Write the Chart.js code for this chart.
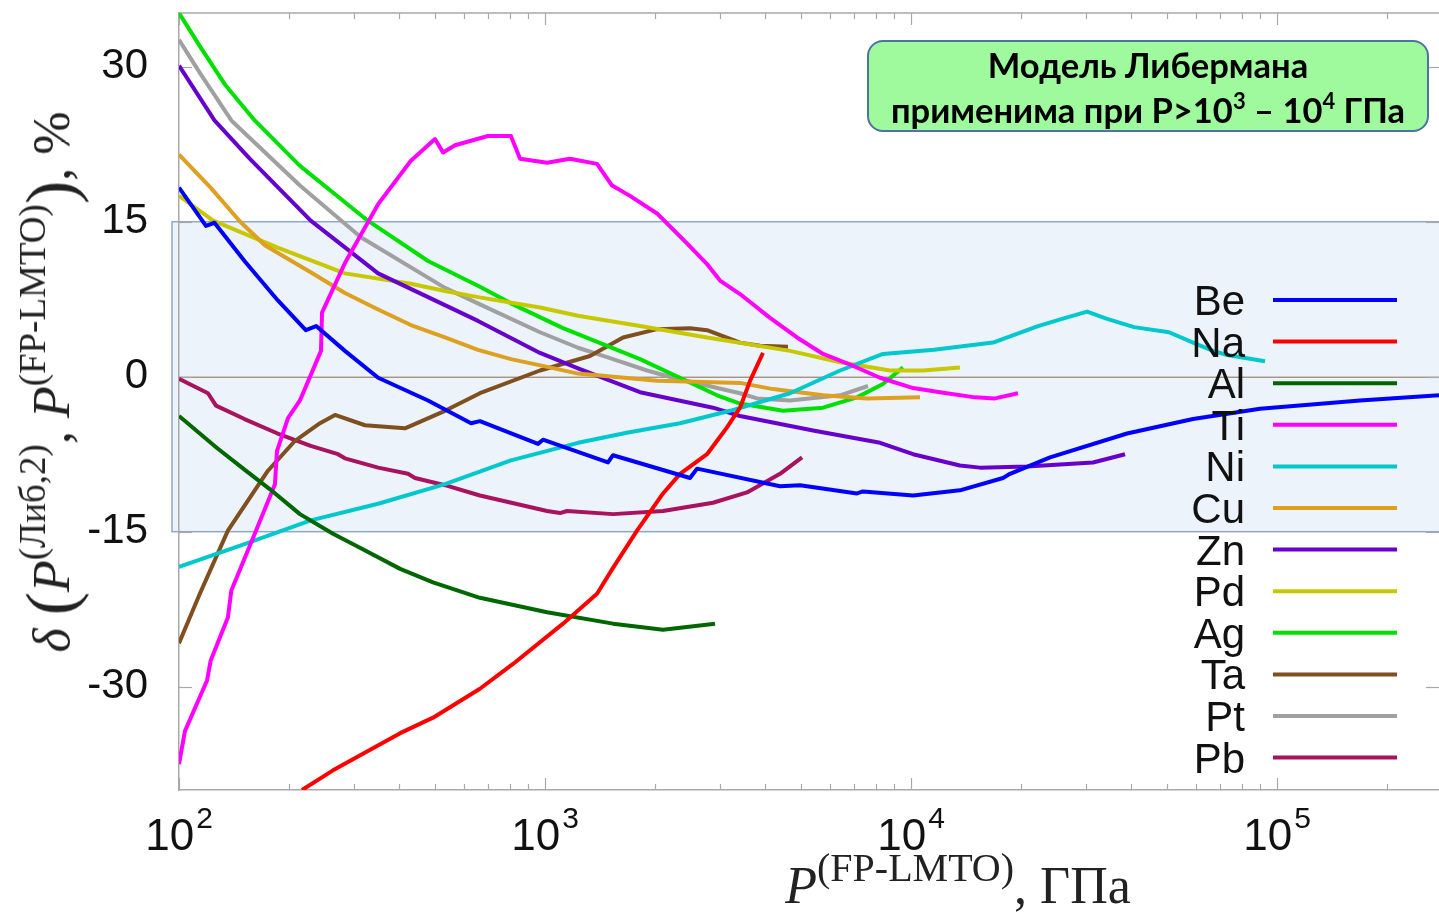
<!DOCTYPE html>
<html><head><meta charset="utf-8">
<script src="https://cdn.jsdelivr.net/npm/chart.js@4.4.1/dist/chart.umd.min.js"></script>
<style>
html,body{margin:0;padding:0;background:#fff;}
#wrap{position:relative;width:1439px;height:916px;overflow:hidden;background:#fff;}
#c{position:absolute;left:0;top:0;}
.ytitle{position:absolute;left:46px;top:382px;transform:translate(-50%,-50%) rotate(-90deg);font-family:"Liberation Serif",serif;font-size:52px;white-space:nowrap;color:#222;line-height:1;}
.ytitle .sup{font-size:37px;top:-24px;}
.xtitle{position:absolute;left:958px;top:886px;transform:translate(-50%,-50%);font-family:"Liberation Serif",serif;font-size:52px;white-space:nowrap;color:#222;line-height:1;}
.sup{position:relative;}
.xtitle .sup{font-size:40px;top:-22px;}
.big{font-size:70px;position:relative;top:5px;font-weight:300;}
i{font-style:italic;}
.note{position:absolute;left:867px;top:40px;width:558px;height:88px;border:2px solid #4E72A2;border-radius:16px;background:#9EFA9C;font-family:Lato,"Open Sans",sans-serif;font-weight:700;font-size:34.5px;line-height:45px;text-align:center;color:#000;}
.note sup{font-size:22px;line-height:0;vertical-align:0.65em;}
</style></head>
<body>
<div id="wrap">
<canvas id="c" width="1439" height="916" style="width:1439px;height:916px"></canvas>
<div class="ytitle"><i>δ</i> <span class="big">(</span><i>P</i><span class="sup">(Либ,2)</span>, <i>P</i><span class="sup">(FP-LMTO)</span><span class="big">)</span>, %</div>
<div class="xtitle"><i>P</i><span class="sup">(FP-LMTO)</span>, ГПа</div>
<div class="note">Модель Либермана<br>применима при P&gt;10<sup>3</sup> – 10<sup>4</sup> ГПа</div>
</div>
<script>
// ---- data (P in GPa, delta in %) ----
const seriesNames = ['Be','Na','Al','Ti','Ni','Cu','Zn','Pd','Ag','Ta','Pt','Pb'];
const seriesColors = ['#0000FF','#FF0000','#006600','#FF00FF','#00C8CC','#DDA020','#6600CC','#C8C800','#00E000','#7F4F1F','#A0A0A0','#A8125E'];

const beP = [100,118.5,125,151,186,222,237,284,350,479,628,664,957,987,1486,1534,2490,2602,4386,4974,7120,7393,10130,13600,17840,18640,23980,38920,58960,89860,168600,277100];
const beD = [18.3,14.6,14.9,11.2,7.4,4.5,4.9,2.5,-0.1,-2.3,-4.5,-4.3,-6.5,-6.1,-8.3,-7.6,-9.8,-8.9,-10.6,-10.5,-11.3,-11.1,-11.5,-11.0,-9.8,-9.4,-7.8,-5.5,-4.1,-3.1,-2.3,-1.8];

const naP = [216.8,263.5,402,494.3,664,817.7,1120,1387,1534,1784,2101,2338,2771,2952,3142,3410,3632,3940];
const naD = [-40.0,-38.1,-34.5,-33.0,-30.2,-27.8,-23.9,-21.0,-18.5,-14.9,-11.3,-9.4,-7.5,-6.2,-4.9,-3.0,-0.4,2.3];

const alP = [100,127,151,177.3,214,263.5,314,402,494.3,664,1013,1534,2101,2914];
const alD = [-3.8,-6.9,-9.0,-10.9,-13.3,-15.2,-16.6,-18.6,-19.9,-21.4,-22.8,-23.9,-24.5,-23.9];

const tiP = [100,103.8,119.3,122,136,139,159.3,182.9,185.2,198.5,214,244.3,245.9,284,350,430,500.5,526.6,567.7,698.6,807,854.6,1013,1170,1387,1525,1707,2023,2443,2771,3007,3410,4119,4881,5750,6686,8230,10130,12000,14960,16960,19600];
const tiD = [-37.5,-34.3,-29.4,-27.5,-23.3,-20.7,-15.6,-10.4,-7.2,-4.0,-2.3,2.5,6.2,11.0,16.7,20.9,23.0,21.7,22.4,23.3,23.3,21.1,20.7,21.1,20.6,18.5,17.5,15.8,12.9,10.9,9.3,8.0,5.7,3.8,2.2,1.3,-0.1,-1.1,-1.5,-2.0,-2.1,-1.6];

const niP = [100,151,229,350,533,807,1231,1686,2338,3203,4670,6400,8380,11560,16750,22230,25860,30270,34320,40680,50690,58960,66860,73020,92730];
const niD = [-18.4,-16.2,-13.9,-12.3,-10.4,-8.1,-6.4,-5.4,-4.5,-3.3,-1.6,0.6,2.2,2.6,3.3,4.9,5.6,6.3,5.6,4.8,4.3,3.3,2.5,2.1,1.5];

const cuP = [100,122,147,172,229,284,350,430,533,656,807,1000,1231,2023,3410,4198,5750,7580,10580];
const cuD = [21.5,18.3,15.0,12.7,10.1,8.1,6.5,5.0,3.8,2.6,1.7,1.0,0.3,-0.4,-0.6,-1.2,-1.8,-2.1,-2.0];

const znP = [100,125,156,229,350,656,969,1231,1818,2877,3410,5400,8230,10130,13600,15430,20750,31420,38430];
const znD = [30.1,24.8,21.1,15.1,10.0,5.4,2.3,0.8,-1.5,-3.0,-3.8,-5.2,-6.4,-7.5,-8.6,-8.8,-8.7,-8.3,-7.5];

const pdP = [100,124,186,284,430,533,656,969,1231,1818,2771,4670,6400,8760,10780,13600];
const pdD = [17.5,15.1,12.5,10.0,9.0,8.3,7.7,6.7,5.9,4.9,3.8,2.5,1.4,0.6,0.6,0.9];

const agP = [100,114,134,161,214,328,479,664,807,1120,1818,2952,3410,4470,5750,7120,8380,9510];
const agD = [35.2,32.0,28.2,24.8,20.4,15.1,11.2,8.7,7.1,4.7,1.7,-1.8,-2.6,-3.3,-3.0,-2.0,-0.7,0.9];

const taP = [100,114,136,175,207.5,242.8,266.8,322.2,414.4,533,664,969,1327,1634,2023,2490,2771,3410,3868,4612];
const taD = [-25.8,-21.0,-14.9,-9.1,-6.2,-4.5,-3.7,-4.7,-5.0,-3.3,-1.6,0.6,2.0,3.8,4.6,4.7,4.5,3.3,3.0,2.9];

const ptP = [100,114,139,214,314,533,664,969,1231,1477,1900,2237,3410,3795,4670,6400,7630];
const ptD = [32.6,29.4,24.8,18.5,13.5,8.6,7.0,4.3,2.8,1.9,0.6,-0.1,-1.6,-2.1,-2.3,-1.8,-0.9];

const pbP = [100,120,126.2,151,186,229,271.9,284,350,422.4,441.3,533,664,1013,1099,1148,1534,2101,2877,3564,4386,5038];
const pbD = [-0.2,-1.6,-2.8,-4.1,-5.5,-6.7,-7.5,-7.9,-8.8,-9.4,-9.8,-10.5,-11.5,-13.0,-13.2,-13.0,-13.3,-13.0,-12.2,-11.2,-9.4,-7.8];

const seriesP = [beP,naP,alP,tiP,niP,cuP,znP,pdP,agP,taP,ptP,pbP];
const seriesD = [beD,naD,alD,tiD,niD,cuD,znD,pdD,agD,taD,ptD,pbD];

// axes
const xRange = [100, 277000];
const yRange = [-40, 35.2];
const yTicks = [-30, -15, 0, 15, 30];
const xDecades = [100, 1000, 10000, 100000];
const xDecadeExp = ['2','3','4','5'];
const xMinorMult = [1,2,3,4,5,6,7,8,9];
const band = [-15, 15];

const deco = {
  id: 'deco',
  beforeDraw(chart) {
    const {ctx, chartArea: a, scales: {y}} = chart;
    const t = y.getPixelForValue(band[1]), b = y.getPixelForValue(band[0]);
    ctx.save();
    ctx.fillStyle = '#ECF3FA';
    ctx.fillRect(a.left - 7, t, a.right - a.left + 10, b - t);
    ctx.strokeStyle = '#8FA8C6';
    ctx.lineWidth = 1.5;
    ctx.strokeRect(a.left - 7, t, a.right - a.left + 20, b - t);
    ctx.restore();
  },
  beforeDatasetsDraw(chart) {
    const {ctx, chartArea: a, scales: {x, y}} = chart;
    ctx.save();
    const z = y.getPixelForValue(0);
    ctx.strokeStyle = '#8A6A4C';
    ctx.lineWidth = 1;
    ctx.beginPath(); ctx.moveTo(a.left, z + 0.5); ctx.lineTo(a.right, z + 0.5); ctx.stroke();
    ctx.strokeStyle = '#A8A8A8';
    ctx.lineWidth = 1.5;
    ctx.beginPath(); ctx.moveTo(a.left, a.top); ctx.lineTo(a.right, a.top); ctx.stroke();
    ctx.lineWidth = 1.2;
    xDecades.forEach(d => {
      xMinorMult.forEach(m => {
        const v = d * m;
        if (v < xRange[0] || v > xRange[1]) return;
        const px = Math.round(x.getPixelForValue(v)) + 0.5;
        const len = m === 1 ? 12 : 6;
        ctx.beginPath(); ctx.moveTo(px, a.bottom); ctx.lineTo(px, a.bottom - len); ctx.stroke();
        ctx.beginPath(); ctx.moveTo(px, a.top); ctx.lineTo(px, a.top + len); ctx.stroke();
      });
    });
    yTicks.forEach(v => {
      const py = Math.round(y.getPixelForValue(v)) + 0.5;
      ctx.beginPath(); ctx.moveTo(a.left, py); ctx.lineTo(a.left + 13, py); ctx.stroke();
      ctx.beginPath(); ctx.moveTo(a.right, py); ctx.lineTo(a.right - 13, py); ctx.stroke();
    });
    ctx.restore();
  },
  afterDatasetsDraw(chart) {
    const {ctx, chartArea: a, scales: {x}} = chart;
    ctx.save();
    ctx.fillStyle = '#111';
    ctx.textBaseline = 'alphabetic';
    ctx.textAlign = 'left';
    xDecades.forEach((d, i) => {
      const px = x.getPixelForValue(d);
      ctx.font = '44px "Liberation Sans", Arial, sans-serif';
      const w1 = ctx.measureText('10').width;
      ctx.font = '30px "Liberation Sans", Arial, sans-serif';
      const w2 = ctx.measureText(xDecadeExp[i]).width;
      const start = px - (w1 + w2 + 2) / 2;
      ctx.font = '44px "Liberation Sans", Arial, sans-serif';
      ctx.fillText('10', start, a.bottom + 60);
      ctx.font = '30px "Liberation Sans", Arial, sans-serif';
      ctx.fillText(xDecadeExp[i], start + w1 + 2, a.bottom + 38);
    });
    chart.data.datasets.forEach((ds, i) => {
      const yy = 300 + i * 41.6;
      ctx.font = '42px "Liberation Sans", Arial, sans-serif';
      ctx.textAlign = 'right';
      ctx.fillStyle = '#111';
      ctx.fillText(ds.label, 1245, yy + 15);
      ctx.strokeStyle = ds.borderColor;
      ctx.lineWidth = 4;
      ctx.beginPath(); ctx.moveTo(1273, yy); ctx.lineTo(1397, yy); ctx.stroke();
    });
    ctx.restore();
  }
};

const datasets = seriesNames.map((name, i) => ({
  label: name,
  data: seriesP[i].map((p, k) => ({x: p, y: seriesD[i][k]})),
  borderColor: seriesColors[i],
  backgroundColor: seriesColors[i],
  showLine: true,
  pointRadius: 0,
  borderWidth: 4,
  tension: 0,
  borderJoinStyle: 'round'
}));

new Chart(document.getElementById('c'), {
  type: 'scatter',
  data: {datasets},
  options: {
    responsive: false,
    animation: false,
    devicePixelRatio: 1,
    layout: {padding: {top: 13, left: 0, right: 0, bottom: 0}},
    plugins: {legend: {display: false}, tooltip: {enabled: false}},
    scales: {
      x: {
        type: 'logarithmic', min: xRange[0], max: xRange[1],
        grid: {display: false, drawTicks: false},
        border: {display: true, color: '#A8A8A8', width: 1.5},
        ticks: {display: false},
        afterFit(s) { s.height = 126; s.paddingLeft = 0; s.paddingRight = 0; }
      },
      y: {
        type: 'linear', min: yRange[0], max: yRange[1],
        afterBuildTicks(s) { s.ticks = yTicks.map(v => ({value: v})); },
        grid: {display: false, drawTicks: false},
        border: {display: true, color: '#A8A8A8', width: 1.5},
        ticks: {font: {family: '"Liberation Sans", Arial, sans-serif', size: 42}, color: '#111', padding: 31, autoSkip: false, callback: v => String(v)},
        afterFit(s) { s.width = 179; s.paddingTop = 0; s.paddingBottom = 0; }
      }
    }
  },
  plugins: [deco]
});
</script>
</body></html>
